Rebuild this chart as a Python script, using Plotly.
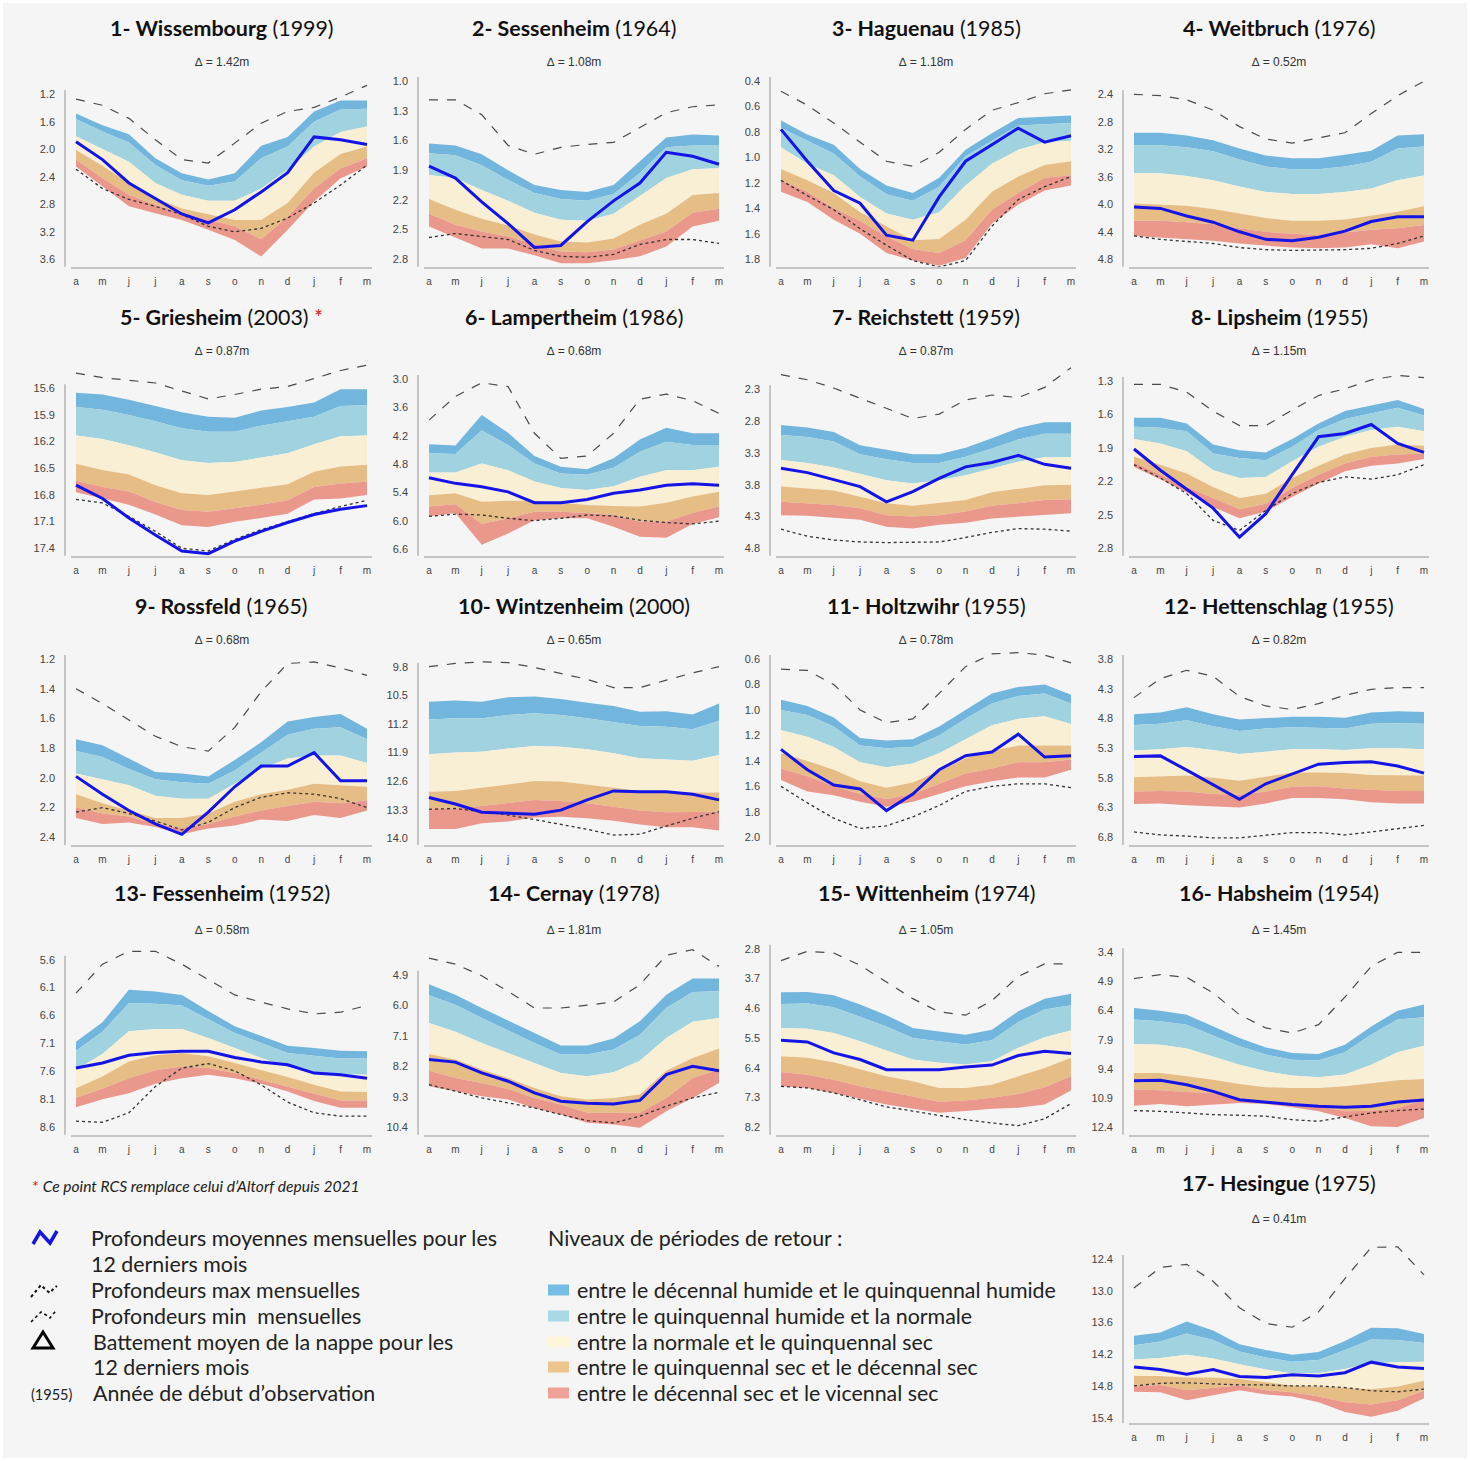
import plotly.graph_objects as go

# ---------------------------------------------------------------- data
MONTHS = ["a", "m", "j", "j", "a", "s", "o", "n", "d", "j", "f", "m"]
STATIONS = ["Wissembourg", "Sessenheim", "Haguenau", "Weitbruch", "Griesheim", "Lampertheim",
            "Reichstett", "Lipsheim", "Rossfeld", "Wintzenheim", "Holtzwihr", "Hettenschlag",
            "Fessenheim", "Cernay", "Wittenheim", "Habsheim", "Hesingue"]
START_YEARS = [1999, 1964, 1985, 1976, 2003, 1986, 1959, 1955, 1965, 2000, 1955, 1955,
               1952, 1978, 1974, 1954, 1975]
DELTAS = [1.42, 1.08, 1.18, 0.52, 0.87, 0.68, 0.87, 1.15, 0.68, 0.65, 0.78, 0.82,
          0.58, 1.81, 1.05, 1.45, 0.41]

P1_TICKS = [1.2, 1.6, 2.0, 2.4, 2.8, 3.2, 3.6]
P1_MAX = [1.27, 1.36, 1.55, 1.86, 2.15, 2.20, 1.91, 1.62, 1.45, 1.39, 1.24, 1.07]
P1_DH10 = [1.48, 1.65, 1.78, 2.13, 2.35, 2.44, 2.35, 1.95, 1.82, 1.45, 1.29, 1.29]
P1_DH5 = [1.56, 1.74, 1.90, 2.23, 2.45, 2.53, 2.47, 2.13, 1.96, 1.60, 1.42, 1.41]
P1_NORM = [1.81, 1.99, 2.18, 2.49, 2.66, 2.75, 2.75, 2.57, 2.30, 1.96, 1.75, 1.67]
P1_DS5 = [2.01, 2.24, 2.49, 2.71, 2.86, 2.95, 3.03, 3.03, 2.78, 2.34, 2.07, 1.96]
P1_DS10 = [2.15, 2.42, 2.66, 2.81, 2.92, 3.03, 3.12, 3.31, 2.98, 2.57, 2.28, 2.13]
P1_DS20 = [2.25, 2.54, 2.83, 2.93, 3.03, 3.17, 3.32, 3.56, 3.17, 2.76, 2.42, 2.25]
P1_MEAN = [1.89, 2.15, 2.49, 2.71, 2.94, 3.07, 2.88, 2.62, 2.34, 1.82, 1.86, 1.93]
P1_MIN = [2.29, 2.57, 2.73, 2.83, 2.95, 3.12, 3.20, 3.15, 3.00, 2.78, 2.52, 2.23]

P2_TICKS = [1.0, 1.3, 1.6, 1.9, 2.2, 2.5, 2.8]
P2_MAX = [1.19, 1.19, 1.34, 1.65, 1.74, 1.67, 1.64, 1.62, 1.47, 1.32, 1.26, 1.24]
P2_DH10 = [1.63, 1.65, 1.74, 1.90, 2.05, 2.10, 2.12, 2.05, 1.81, 1.57, 1.54, 1.55]
P2_DH5 = [1.73, 1.75, 1.85, 2.00, 2.13, 2.19, 2.21, 2.14, 1.93, 1.67, 1.65, 1.65]
P2_NORM = [1.95, 1.98, 2.10, 2.21, 2.33, 2.40, 2.41, 2.34, 2.16, 1.98, 1.89, 1.88]
P2_DS5 = [2.19, 2.30, 2.39, 2.46, 2.55, 2.62, 2.63, 2.59, 2.45, 2.34, 2.15, 2.13]
P2_DS10 = [2.34, 2.45, 2.52, 2.57, 2.65, 2.72, 2.73, 2.70, 2.61, 2.52, 2.33, 2.29]
P2_DS20 = [2.47, 2.58, 2.69, 2.69, 2.76, 2.84, 2.84, 2.81, 2.77, 2.67, 2.47, 2.41]
P2_MEAN = [1.86, 1.98, 2.22, 2.44, 2.68, 2.66, 2.42, 2.21, 2.03, 1.72, 1.76, 1.84]
P2_MIN = [2.58, 2.54, 2.57, 2.60, 2.71, 2.77, 2.78, 2.75, 2.65, 2.60, 2.60, 2.64]

P3_TICKS = [0.4, 0.6, 0.8, 1.0, 1.2, 1.4, 1.6, 1.8]
P3_MAX = [0.48, 0.59, 0.73, 0.88, 1.03, 1.07, 0.96, 0.78, 0.63, 0.57, 0.50, 0.47]
P3_DH10 = [0.71, 0.82, 0.90, 1.09, 1.22, 1.28, 1.16, 0.94, 0.81, 0.69, 0.68, 0.67]
P3_DH5 = [0.77, 0.87, 0.97, 1.15, 1.29, 1.34, 1.23, 0.99, 0.87, 0.75, 0.74, 0.73]
P3_NORM = [0.92, 1.05, 1.14, 1.31, 1.44, 1.49, 1.43, 1.22, 1.05, 0.94, 0.88, 0.87]
P3_DS5 = [1.09, 1.18, 1.28, 1.43, 1.54, 1.65, 1.64, 1.49, 1.27, 1.15, 1.06, 1.03]
P3_DS10 = [1.18, 1.27, 1.40, 1.50, 1.62, 1.72, 1.75, 1.65, 1.41, 1.28, 1.16, 1.14]
P3_DS20 = [1.27, 1.35, 1.49, 1.60, 1.75, 1.81, 1.85, 1.79, 1.52, 1.37, 1.26, 1.22]
P3_MEAN = [0.78, 1.03, 1.26, 1.36, 1.61, 1.65, 1.31, 1.03, 0.90, 0.77, 0.88, 0.83]
P3_MIN = [1.18, 1.30, 1.41, 1.56, 1.69, 1.81, 1.86, 1.81, 1.54, 1.33, 1.23, 1.15]

P4_TICKS = [2.4, 2.8, 3.2, 3.6, 4.0, 4.4, 4.8]
P4_MAX = [2.40, 2.42, 2.48, 2.63, 2.87, 3.05, 3.11, 3.03, 2.96, 2.68, 2.42, 2.21]
P4_DH10 = [2.96, 2.96, 3.00, 3.07, 3.19, 3.29, 3.33, 3.33, 3.28, 3.22, 3.00, 2.98]
P4_DH5 = [3.14, 3.14, 3.17, 3.23, 3.35, 3.45, 3.49, 3.49, 3.45, 3.38, 3.19, 3.16]
P4_NORM = [3.55, 3.55, 3.59, 3.65, 3.74, 3.82, 3.85, 3.85, 3.82, 3.77, 3.65, 3.58]
P4_DS5 = [3.99, 4.00, 4.02, 4.07, 4.14, 4.20, 4.24, 4.24, 4.22, 4.17, 4.11, 4.03]
P4_DS10 = [4.24, 4.24, 4.26, 4.29, 4.35, 4.40, 4.43, 4.45, 4.41, 4.37, 4.35, 4.30]
P4_DS20 = [4.46, 4.48, 4.50, 4.53, 4.57, 4.60, 4.63, 4.64, 4.63, 4.58, 4.64, 4.54]
P4_MEAN = [4.04, 4.06, 4.17, 4.26, 4.40, 4.51, 4.53, 4.48, 4.39, 4.25, 4.18, 4.18]
P4_MIN = [4.46, 4.51, 4.54, 4.57, 4.63, 4.66, 4.67, 4.67, 4.66, 4.64, 4.57, 4.46]

P5_TICKS = [15.6, 15.9, 16.2, 16.5, 16.8, 17.1, 17.4]
P5_MAX = [15.43, 15.48, 15.51, 15.54, 15.63, 15.72, 15.67, 15.61, 15.58, 15.49, 15.40, 15.34]
P5_DH10 = [15.65, 15.67, 15.73, 15.80, 15.87, 15.92, 15.93, 15.85, 15.81, 15.76, 15.61, 15.61]
P5_DH5 = [15.81, 15.84, 15.90, 15.97, 16.05, 16.09, 16.09, 16.02, 15.97, 15.92, 15.80, 15.79]
P5_NORM = [16.13, 16.17, 16.24, 16.32, 16.41, 16.44, 16.43, 16.38, 16.33, 16.23, 16.14, 16.13]
P5_DS5 = [16.45, 16.52, 16.57, 16.69, 16.78, 16.80, 16.76, 16.72, 16.68, 16.54, 16.48, 16.46]
P5_DS10 = [16.64, 16.71, 16.76, 16.88, 16.97, 16.99, 16.95, 16.91, 16.86, 16.71, 16.67, 16.65]
P5_DS20 = [16.77, 16.84, 16.91, 17.02, 17.14, 17.16, 17.10, 17.06, 17.01, 16.85, 16.84, 16.80]
P5_MEAN = [16.69, 16.84, 17.06, 17.25, 17.43, 17.46, 17.32, 17.21, 17.11, 17.02, 16.96, 16.92]
P5_MIN = [16.85, 16.89, 17.04, 17.21, 17.40, 17.43, 17.30, 17.19, 17.10, 17.01, 16.93, 16.86]

P6_TICKS = [3.0, 3.6, 4.2, 4.8, 5.4, 6.0, 6.6]
P6_MAX = [3.87, 3.37, 3.08, 3.16, 4.15, 4.68, 4.63, 4.15, 3.43, 3.32, 3.46, 3.73]
P6_DH10 = [4.38, 4.41, 3.76, 4.14, 4.63, 4.86, 4.91, 4.68, 4.28, 4.03, 4.15, 4.15]
P6_DH5 = [4.57, 4.59, 4.09, 4.40, 4.79, 5.00, 5.03, 4.88, 4.54, 4.33, 4.40, 4.40]
P6_NORM = [4.98, 4.98, 4.79, 4.93, 5.17, 5.31, 5.35, 5.27, 5.07, 4.93, 4.93, 4.86]
P6_DS5 = [5.46, 5.42, 5.60, 5.58, 5.58, 5.63, 5.67, 5.69, 5.70, 5.62, 5.49, 5.39]
P6_DS10 = [5.70, 5.65, 6.07, 5.95, 5.81, 5.81, 5.84, 5.88, 6.02, 6.02, 5.84, 5.70]
P6_DS20 = [5.91, 5.84, 6.51, 6.27, 5.99, 5.95, 5.95, 6.13, 6.34, 6.36, 6.07, 5.93]
P6_MEAN = [5.09, 5.21, 5.28, 5.39, 5.62, 5.62, 5.55, 5.42, 5.35, 5.25, 5.22, 5.25]
P6_MIN = [5.91, 5.86, 5.88, 5.95, 6.00, 5.95, 5.88, 5.90, 5.99, 6.04, 6.07, 6.01]

P7_TICKS = [2.3, 2.8, 3.3, 3.8, 4.3, 4.8]
P7_MAX = [2.07, 2.15, 2.28, 2.44, 2.60, 2.76, 2.69, 2.47, 2.39, 2.43, 2.27, 1.96]
P7_DH10 = [2.86, 2.90, 2.97, 3.18, 3.25, 3.32, 3.32, 3.22, 3.07, 2.91, 2.82, 2.82]
P7_DH5 = [3.02, 3.05, 3.12, 3.32, 3.40, 3.46, 3.46, 3.36, 3.23, 3.09, 3.00, 3.00]
P7_NORM = [3.41, 3.46, 3.53, 3.63, 3.73, 3.78, 3.73, 3.65, 3.54, 3.44, 3.37, 3.37]
P7_DS5 = [3.83, 3.86, 3.89, 3.99, 4.09, 4.13, 4.09, 4.04, 3.92, 3.87, 3.81, 3.80]
P7_DS10 = [4.07, 4.09, 4.12, 4.17, 4.28, 4.30, 4.28, 4.22, 4.13, 4.09, 4.04, 4.03]
P7_DS20 = [4.28, 4.29, 4.32, 4.35, 4.46, 4.49, 4.43, 4.40, 4.33, 4.30, 4.27, 4.25]
P7_MEAN = [3.54, 3.61, 3.72, 3.83, 4.07, 3.91, 3.70, 3.52, 3.45, 3.34, 3.48, 3.54]
P7_MIN = [4.50, 4.61, 4.67, 4.70, 4.71, 4.71, 4.70, 4.63, 4.55, 4.49, 4.50, 4.53]

P8_TICKS = [1.3, 1.6, 1.9, 2.2, 2.5, 2.8]
P8_MAX = [1.33, 1.33, 1.40, 1.57, 1.70, 1.70, 1.56, 1.43, 1.37, 1.29, 1.25, 1.27]
P8_DH10 = [1.63, 1.63, 1.68, 1.87, 1.92, 1.94, 1.82, 1.68, 1.57, 1.52, 1.47, 1.55]
P8_DH5 = [1.71, 1.72, 1.75, 1.95, 1.99, 2.01, 1.89, 1.74, 1.64, 1.59, 1.54, 1.61]
P8_NORM = [1.82, 1.86, 1.93, 2.10, 2.17, 2.16, 2.02, 1.89, 1.80, 1.74, 1.71, 1.75]
P8_DS5 = [1.98, 2.05, 2.13, 2.25, 2.35, 2.31, 2.17, 2.06, 1.96, 1.90, 1.87, 1.88]
P8_DS10 = [2.03, 2.14, 2.25, 2.35, 2.45, 2.40, 2.26, 2.14, 2.04, 1.98, 1.96, 1.95]
P8_DS20 = [2.07, 2.18, 2.30, 2.43, 2.53, 2.47, 2.34, 2.22, 2.11, 2.06, 2.04, 2.00]
P8_MEAN = [1.91, 2.10, 2.27, 2.44, 2.70, 2.49, 2.14, 1.80, 1.77, 1.69, 1.86, 1.94]
P8_MIN = [2.05, 2.17, 2.31, 2.55, 2.64, 2.46, 2.31, 2.21, 2.16, 2.18, 2.14, 2.05]

P9_TICKS = [1.2, 1.4, 1.6, 1.8, 2.0, 2.2, 2.4]
P9_MAX = [1.40, 1.50, 1.61, 1.72, 1.79, 1.82, 1.66, 1.42, 1.23, 1.22, 1.26, 1.31]
P9_DH10 = [1.74, 1.78, 1.87, 1.96, 1.97, 1.99, 1.88, 1.76, 1.62, 1.59, 1.57, 1.67]
P9_DH5 = [1.82, 1.86, 1.94, 2.01, 2.03, 2.04, 1.95, 1.83, 1.71, 1.67, 1.66, 1.74]
P9_NORM = [1.97, 2.01, 2.05, 2.12, 2.14, 2.14, 2.04, 1.94, 1.87, 1.85, 1.85, 1.90]
P9_DS5 = [2.11, 2.17, 2.22, 2.27, 2.27, 2.24, 2.16, 2.11, 2.08, 2.04, 2.05, 2.06]
P9_DS10 = [2.20, 2.24, 2.26, 2.31, 2.34, 2.31, 2.26, 2.22, 2.19, 2.16, 2.17, 2.15]
P9_DS20 = [2.27, 2.31, 2.30, 2.33, 2.38, 2.34, 2.32, 2.28, 2.29, 2.25, 2.27, 2.22]
P9_MEAN = [1.99, 2.11, 2.22, 2.31, 2.38, 2.23, 2.06, 1.92, 1.92, 1.83, 2.02, 2.02]
P9_MIN = [2.23, 2.20, 2.24, 2.29, 2.35, 2.30, 2.20, 2.13, 2.10, 2.11, 2.14, 2.20]

P10_TICKS = [9.8, 10.5, 11.2, 11.9, 12.6, 13.3, 14.0]
P10_MAX = [9.80, 9.72, 9.68, 9.70, 9.82, 9.96, 10.11, 10.31, 10.31, 10.13, 9.95, 9.80]
P10_DH10 = [10.66, 10.63, 10.66, 10.55, 10.53, 10.59, 10.68, 10.76, 10.90, 10.89, 10.97, 10.70]
P10_DH5 = [11.09, 11.06, 11.06, 10.98, 10.94, 10.98, 11.06, 11.15, 11.25, 11.27, 11.33, 11.12]
P10_NORM = [11.94, 11.90, 11.88, 11.80, 11.74, 11.76, 11.82, 11.92, 12.04, 12.07, 12.10, 11.96]
P10_DS5 = [12.86, 12.84, 12.76, 12.68, 12.60, 12.61, 12.68, 12.76, 12.84, 12.86, 12.88, 12.88]
P10_DS10 = [13.29, 13.27, 13.21, 13.14, 13.06, 13.09, 13.14, 13.23, 13.32, 13.36, 13.36, 13.35]
P10_DS20 = [13.77, 13.77, 13.63, 13.59, 13.49, 13.47, 13.51, 13.57, 13.66, 13.73, 13.73, 13.81]
P10_MEAN = [13.00, 13.16, 13.36, 13.39, 13.41, 13.31, 13.06, 12.84, 12.86, 12.86, 12.92, 13.06]
P10_MIN = [13.29, 13.27, 13.35, 13.43, 13.54, 13.66, 13.78, 13.92, 13.90, 13.70, 13.51, 13.35]

P11_TICKS = [0.6, 0.8, 1.0, 1.2, 1.4, 1.6, 1.8, 2.0]
P11_MAX = [0.68, 0.69, 0.80, 1.00, 1.10, 1.07, 0.87, 0.66, 0.56, 0.55, 0.57, 0.63]
P11_DH10 = [0.92, 0.97, 1.06, 1.22, 1.24, 1.23, 1.13, 1.00, 0.87, 0.82, 0.80, 0.88]
P11_DH5 = [1.00, 1.04, 1.13, 1.28, 1.30, 1.29, 1.20, 1.07, 0.95, 0.89, 0.87, 0.95]
P11_NORM = [1.16, 1.21, 1.29, 1.41, 1.45, 1.42, 1.34, 1.23, 1.12, 1.07, 1.05, 1.11]
P11_DS5 = [1.34, 1.40, 1.47, 1.56, 1.61, 1.57, 1.48, 1.38, 1.32, 1.28, 1.28, 1.28]
P11_DS10 = [1.46, 1.52, 1.60, 1.66, 1.70, 1.66, 1.58, 1.50, 1.46, 1.41, 1.41, 1.39]
P11_DS20 = [1.55, 1.64, 1.67, 1.72, 1.76, 1.72, 1.66, 1.60, 1.56, 1.53, 1.53, 1.47]
P11_MEAN = [1.31, 1.47, 1.59, 1.62, 1.79, 1.66, 1.47, 1.36, 1.33, 1.19, 1.37, 1.36]
P11_MIN = [1.60, 1.73, 1.85, 1.93, 1.91, 1.84, 1.75, 1.64, 1.60, 1.58, 1.58, 1.61]

P12_TICKS = [3.8, 4.3, 4.8, 5.3, 5.8, 6.3, 6.8]
P12_MAX = [4.45, 4.13, 3.99, 4.09, 4.43, 4.59, 4.65, 4.55, 4.41, 4.31, 4.28, 4.28]
P12_DH10 = [4.73, 4.70, 4.61, 4.73, 4.82, 4.79, 4.77, 4.77, 4.79, 4.70, 4.68, 4.69]
P12_DH5 = [4.91, 4.89, 4.83, 4.93, 5.01, 4.97, 4.95, 4.96, 4.97, 4.89, 4.88, 4.89]
P12_NORM = [5.34, 5.32, 5.28, 5.33, 5.40, 5.36, 5.32, 5.32, 5.33, 5.30, 5.30, 5.32]
P12_DS5 = [5.79, 5.77, 5.76, 5.80, 5.85, 5.78, 5.71, 5.71, 5.72, 5.75, 5.76, 5.76]
P12_DS10 = [6.03, 6.02, 6.03, 6.07, 6.09, 6.03, 5.95, 5.94, 5.98, 6.00, 6.02, 6.02]
P12_DS20 = [6.24, 6.23, 6.26, 6.28, 6.30, 6.23, 6.14, 6.14, 6.16, 6.21, 6.23, 6.23]
P12_MEAN = [5.44, 5.43, 5.67, 5.92, 6.16, 5.90, 5.74, 5.57, 5.54, 5.53, 5.60, 5.72]
P12_MIN = [6.71, 6.76, 6.78, 6.81, 6.81, 6.76, 6.72, 6.72, 6.76, 6.71, 6.65, 6.60]

P13_TICKS = [5.6, 6.1, 6.6, 7.1, 7.6, 8.1, 8.6]
P13_MAX = [6.20, 5.68, 5.45, 5.45, 5.68, 5.96, 6.23, 6.36, 6.48, 6.57, 6.54, 6.42]
P13_DH10 = [7.07, 6.72, 6.14, 6.17, 6.23, 6.52, 6.79, 6.97, 7.14, 7.18, 7.23, 7.24]
P13_DH5 = [7.23, 6.89, 6.38, 6.39, 6.42, 6.66, 6.91, 7.09, 7.27, 7.32, 7.37, 7.37]
P13_NORM = [7.57, 7.29, 6.88, 6.84, 6.84, 7.00, 7.18, 7.36, 7.52, 7.61, 7.65, 7.66]
P13_DS5 = [7.90, 7.69, 7.42, 7.31, 7.27, 7.33, 7.45, 7.57, 7.70, 7.84, 7.96, 7.97]
P13_DS10 = [8.07, 7.91, 7.72, 7.58, 7.51, 7.54, 7.63, 7.75, 7.87, 7.99, 8.12, 8.12]
P13_DS20 = [8.24, 8.10, 7.99, 7.82, 7.72, 7.66, 7.72, 7.82, 7.96, 8.13, 8.25, 8.25]
P13_MEAN = [7.54, 7.45, 7.31, 7.26, 7.24, 7.24, 7.35, 7.43, 7.48, 7.63, 7.66, 7.72]
P13_MIN = [8.49, 8.51, 8.34, 7.87, 7.54, 7.46, 7.59, 7.84, 8.15, 8.34, 8.40, 8.40]

P14_TICKS = [4.9, 6.0, 7.1, 8.2, 9.3, 10.4]
P14_MAX = [4.30, 4.52, 4.94, 5.50, 6.10, 6.10, 6.00, 5.88, 5.26, 4.20, 4.00, 4.60]
P14_DH10 = [5.24, 5.62, 6.10, 6.56, 7.00, 7.45, 7.45, 7.20, 6.58, 5.62, 5.04, 5.04]
P14_DH5 = [5.64, 5.98, 6.46, 6.92, 7.36, 7.78, 7.78, 7.60, 7.06, 6.10, 5.52, 5.50]
P14_NORM = [6.64, 6.96, 7.36, 7.72, 8.08, 8.44, 8.56, 8.42, 8.00, 7.18, 6.60, 6.46]
P14_DS5 = [7.76, 7.96, 8.32, 8.62, 8.98, 9.28, 9.40, 9.34, 9.22, 8.36, 7.90, 7.56]
P14_DS10 = [8.36, 8.62, 8.80, 9.02, 9.34, 9.58, 9.88, 9.88, 9.88, 9.34, 8.62, 8.32]
P14_DS20 = [8.92, 9.10, 9.28, 9.40, 9.70, 9.94, 10.24, 10.30, 10.42, 9.82, 9.34, 8.80]
P14_MEAN = [7.96, 8.05, 8.44, 8.74, 9.16, 9.46, 9.53, 9.56, 9.43, 8.50, 8.20, 8.36]
P14_MIN = [8.86, 9.10, 9.34, 9.52, 9.70, 9.94, 10.16, 10.24, 10.00, 9.64, 9.34, 9.14]

P15_TICKS = [2.8, 3.7, 4.6, 5.5, 6.4, 7.3, 8.2]
P15_MAX = [3.16, 2.88, 2.93, 3.30, 3.81, 4.31, 4.71, 4.81, 4.37, 3.64, 3.26, 3.26]
P15_DH10 = [4.12, 4.11, 4.21, 4.49, 4.81, 5.20, 5.30, 5.40, 5.25, 4.69, 4.31, 4.16]
P15_DH5 = [4.47, 4.46, 4.57, 4.87, 5.15, 5.50, 5.60, 5.70, 5.57, 5.02, 4.64, 4.51]
P15_NORM = [5.20, 5.22, 5.35, 5.60, 5.88, 6.15, 6.25, 6.30, 6.20, 5.80, 5.48, 5.27]
P15_DS5 = [6.05, 6.10, 6.23, 6.44, 6.66, 6.81, 7.01, 7.01, 6.91, 6.66, 6.41, 6.10]
P15_DS10 = [6.53, 6.61, 6.76, 6.96, 7.11, 7.26, 7.43, 7.39, 7.31, 7.19, 6.99, 6.66]
P15_DS20 = [6.96, 7.01, 7.16, 7.33, 7.51, 7.64, 7.76, 7.71, 7.64, 7.61, 7.51, 7.09]
P15_MEAN = [5.57, 5.62, 5.95, 6.15, 6.46, 6.46, 6.46, 6.38, 6.32, 6.03, 5.90, 5.97]
P15_MIN = [6.96, 7.01, 7.16, 7.36, 7.58, 7.71, 7.84, 7.97, 8.07, 8.15, 7.94, 7.48]

P16_TICKS = [3.4, 4.9, 6.4, 7.9, 9.4, 10.9, 12.4]
P16_MAX = [4.75, 4.55, 4.69, 5.49, 6.61, 7.29, 7.55, 7.12, 5.71, 4.12, 3.40, 3.40]
P16_DH10 = [6.26, 6.40, 6.61, 7.21, 7.81, 8.29, 8.58, 8.63, 8.15, 7.21, 6.40, 6.09]
P16_DH5 = [6.86, 6.95, 7.12, 7.67, 8.23, 8.66, 8.92, 8.97, 8.54, 7.63, 6.86, 6.74]
P16_NORM = [8.11, 8.15, 8.35, 8.75, 9.18, 9.52, 9.73, 9.83, 9.69, 9.18, 8.54, 8.20]
P16_DS5 = [9.61, 9.61, 9.78, 9.95, 10.17, 10.34, 10.38, 10.38, 10.29, 10.12, 9.98, 9.92]
P16_DS10 = [10.46, 10.50, 10.58, 10.63, 10.93, 11.06, 11.20, 11.32, 11.58, 11.55, 11.41, 10.98]
P16_DS20 = [11.29, 11.20, 11.32, 11.23, 11.15, 11.20, 11.37, 11.58, 11.92, 12.35, 12.38, 11.92]
P16_MEAN = [10.00, 9.98, 10.21, 10.55, 10.98, 11.11, 11.23, 11.32, 11.37, 11.32, 11.10, 11.00]
P16_MIN = [11.54, 11.58, 11.66, 11.75, 11.78, 11.83, 12.01, 12.09, 11.87, 11.66, 11.54, 11.46]

P17_TICKS = [12.4, 13.0, 13.6, 14.2, 14.8, 15.4]
P17_MAX = [12.95, 12.56, 12.50, 12.82, 13.32, 13.62, 13.69, 13.40, 12.77, 12.18, 12.17, 12.70]
P17_DH10 = [13.85, 13.79, 13.58, 13.75, 14.01, 14.12, 14.21, 14.16, 13.95, 13.70, 13.71, 13.82]
P17_DH5 = [14.03, 13.96, 13.81, 13.93, 14.15, 14.26, 14.34, 14.31, 14.12, 13.92, 13.93, 13.99]
P17_NORM = [14.30, 14.27, 14.21, 14.28, 14.39, 14.49, 14.56, 14.56, 14.48, 14.37, 14.35, 14.34]
P17_DS5 = [14.61, 14.61, 14.64, 14.64, 14.67, 14.73, 14.79, 14.81, 14.83, 14.86, 14.81, 14.70]
P17_DS10 = [14.81, 14.78, 14.88, 14.83, 14.79, 14.88, 14.92, 15.00, 15.11, 15.15, 15.07, 14.89]
P17_DS20 = [14.91, 14.92, 15.07, 14.97, 14.88, 14.96, 15.00, 15.11, 15.29, 15.38, 15.27, 15.03]
P17_MEAN = [14.44, 14.49, 14.58, 14.49, 14.62, 14.64, 14.59, 14.61, 14.55, 14.35, 14.44, 14.47]
P17_MIN = [14.80, 14.75, 14.74, 14.76, 14.78, 14.78, 14.80, 14.80, 14.83, 14.89, 14.91, 14.86]

BAND_LABELS = ["entre le décennal humide et le quinquennal humide",
               "entre le quinquennal humide et la normale",
               "entre la normale et le quinquennal sec",
               "entre le quinquennal sec et le décennal sec",
               "entre le décennal sec et le vicennal sec"]

PANELS = [
    (P1_TICKS, [P1_DH10, P1_DH5, P1_NORM, P1_DS5, P1_DS10, P1_DS20], P1_MAX, P1_MIN, P1_MEAN),
    (P2_TICKS, [P2_DH10, P2_DH5, P2_NORM, P2_DS5, P2_DS10, P2_DS20], P2_MAX, P2_MIN, P2_MEAN),
    (P3_TICKS, [P3_DH10, P3_DH5, P3_NORM, P3_DS5, P3_DS10, P3_DS20], P3_MAX, P3_MIN, P3_MEAN),
    (P4_TICKS, [P4_DH10, P4_DH5, P4_NORM, P4_DS5, P4_DS10, P4_DS20], P4_MAX, P4_MIN, P4_MEAN),
    (P5_TICKS, [P5_DH10, P5_DH5, P5_NORM, P5_DS5, P5_DS10, P5_DS20], P5_MAX, P5_MIN, P5_MEAN),
    (P6_TICKS, [P6_DH10, P6_DH5, P6_NORM, P6_DS5, P6_DS10, P6_DS20], P6_MAX, P6_MIN, P6_MEAN),
    (P7_TICKS, [P7_DH10, P7_DH5, P7_NORM, P7_DS5, P7_DS10, P7_DS20], P7_MAX, P7_MIN, P7_MEAN),
    (P8_TICKS, [P8_DH10, P8_DH5, P8_NORM, P8_DS5, P8_DS10, P8_DS20], P8_MAX, P8_MIN, P8_MEAN),
    (P9_TICKS, [P9_DH10, P9_DH5, P9_NORM, P9_DS5, P9_DS10, P9_DS20], P9_MAX, P9_MIN, P9_MEAN),
    (P10_TICKS, [P10_DH10, P10_DH5, P10_NORM, P10_DS5, P10_DS10, P10_DS20], P10_MAX, P10_MIN, P10_MEAN),
    (P11_TICKS, [P11_DH10, P11_DH5, P11_NORM, P11_DS5, P11_DS10, P11_DS20], P11_MAX, P11_MIN, P11_MEAN),
    (P12_TICKS, [P12_DH10, P12_DH5, P12_NORM, P12_DS5, P12_DS10, P12_DS20], P12_MAX, P12_MIN, P12_MEAN),
    (P13_TICKS, [P13_DH10, P13_DH5, P13_NORM, P13_DS5, P13_DS10, P13_DS20], P13_MAX, P13_MIN, P13_MEAN),
    (P14_TICKS, [P14_DH10, P14_DH5, P14_NORM, P14_DS5, P14_DS10, P14_DS20], P14_MAX, P14_MIN, P14_MEAN),
    (P15_TICKS, [P15_DH10, P15_DH5, P15_NORM, P15_DS5, P15_DS10, P15_DS20], P15_MAX, P15_MIN, P15_MEAN),
    (P16_TICKS, [P16_DH10, P16_DH5, P16_NORM, P16_DS5, P16_DS10, P16_DS20], P16_MAX, P16_MIN, P16_MEAN),
    (P17_TICKS, [P17_DH10, P17_DH5, P17_NORM, P17_DS5, P17_DS10, P17_DS20], P17_MAX, P17_MIN, P17_MEAN),
]

# ---------------------------------------------------------------- styling / layout geometry
W, H = 1470, 1461
BAND_COLORS = ["#72b6de", "#a0d2df", "#f8efd4", "#e7bd86", "#ea978c"]
LEGEND_SWATCH = ["#76bde3", "#a6d8e5", "#fef5da", "#edc68e", "#efa198"]
MEAN_COLOR = "#1414e6"
TITLE_FONT = "Lato"
TICK_FONT = "Liberation Sans"
LEG_SIZE = 21.4

COL_A = [76, 429, 781, 1134]      # pixel x of first month
COL_M = [367, 719, 1071, 1424]    # pixel x of last month
# rows: (domain top px, baseline px, title y, delta y)
ROWS = [(70, 266.7, 28, 62), (358, 555.7, 317, 351), (645, 845, 606, 640),
        (938, 1134.7, 893, 930), (1233, 1423, 1183, 1219)]
# pixel y of first and last tick label, per panel
TICK_PX = [(94.3, 259.3), (81, 259.3), (81, 259.3), (94.3, 259.3),
           (388.3, 548.3), (379, 549), (389.3, 548.3), (381, 548.3),
           (659, 837.3), (666.7, 838.3), (659, 837.3), (659, 837.3),
           (959.7, 1127.3), (974.7, 1127.3), (948.7, 1127.3), (952.3, 1127.3),
           (1259, 1417.7)]


def px(x):
    return x / W


def py(y):
    return 1 - y / H


fig = go.Figure()
shapes = []
annotations = []
layout_axes = {}
X = list(range(len(MONTHS)))

for i, (ticks, bounds, vmax, vmin, vmean) in enumerate(PANELS):
    n = i + 1
    if i < 16:
        col, row = i % 4, i // 4
    else:
        col, row = 3, 4
    xa, xm = COL_A[col], COL_M[col]
    dom_top, base, title_y, delta_y = ROWS[row]
    t_top, t_bot = TICK_PX[i]
    step = (xm - xa) / 11.0
    pad = 0.2
    v0, v1 = ticks[0], ticks[-1]
    ppu = (t_bot - t_top) / (v1 - v0)
    v_top = v0 - (t_top - dom_top) / ppu
    v_bot = v1 + (base - t_bot) / ppu
    xname = "xaxis" if n == 1 else f"xaxis{n}"
    yname = "yaxis" if n == 1 else f"yaxis{n}"
    xref = "x" if n == 1 else f"x{n}"
    yref = "y" if n == 1 else f"y{n}"
    axis_x = xa - 11

    layout_axes[xname] = dict(
        domain=[px(xa - pad * step), px(xm + pad * step)], range=[-pad, 11 + pad],
        anchor=yref, tickmode="array", tickvals=X, ticktext=MONTHS,
        showgrid=False, zeroline=False, showline=True, linecolor="#c4c4c4", linewidth=2,
        ticks="", ticklabelstandoff=4,
        tickfont=dict(family=TICK_FONT, size=10, color="#444"), fixedrange=True)
    layout_axes[yname] = dict(
        domain=[py(base), py(dom_top)], range=[v_bot, v_top],
        anchor="free", position=px(axis_x), tickmode="array", tickvals=ticks,
        tickformat=".1f", showgrid=False, zeroline=False, showline=False, ticks="",
        ticklabelstandoff=10, tickfont=dict(family=TICK_FONT, size=11, color="#444"),
        fixedrange=True)

    # bands
    fig.add_trace(go.Scatter(x=X, y=bounds[0], mode="lines", line=dict(width=0),
                             xaxis=xref, yaxis=yref, showlegend=False, hoverinfo="skip"))
    for k in range(1, 6):
        fig.add_trace(go.Scatter(x=X, y=bounds[k], mode="lines", line=dict(width=0),
                                 fill="tonexty", fillcolor=BAND_COLORS[k - 1],
                                 xaxis=xref, yaxis=yref, showlegend=False,
                                 name=BAND_LABELS[k - 1], hoverinfo="skip"))
    fig.add_trace(go.Scatter(x=X, y=vmax, mode="lines",
                             line=dict(color="#4a4a4a", width=1.2, dash="dash"),
                             xaxis=xref, yaxis=yref, showlegend=False, name="max"))
    fig.add_trace(go.Scatter(x=X, y=vmin, mode="lines",
                             line=dict(color="#333333", width=1.3, dash="dot"),
                             xaxis=xref, yaxis=yref, showlegend=False, name="min"))
    fig.add_trace(go.Scatter(x=X, y=vmean, mode="lines",
                             line=dict(color=MEAN_COLOR, width=3),
                             xaxis=xref, yaxis=yref, showlegend=False, name="moyenne",
                             cliponaxis=False))

    # vertical axis line
    shapes.append(dict(type="line", xref="paper", yref="paper",
                       x0=px(axis_x), x1=px(axis_x), y0=py(t_top - 4), y1=py(base),
                       line=dict(color="#c4c4c4", width=2)))

    cx = (xa + xm) / 2
    star = " <span style='color:#e02020'>*</span>" if n == 5 else ""
    annotations.append(dict(
        xref="paper", yref="paper", x=px(cx), y=py(title_y), xanchor="center",
        yanchor="middle", showarrow=False,
        text=f"<b>{n}- {STATIONS[i]}</b> ({START_YEARS[i]}){star}",
        font=dict(family=TITLE_FONT, size=21.4, color="#111")))
    annotations.append(dict(
        xref="paper", yref="paper", x=px(cx), y=py(delta_y), xanchor="center",
        yanchor="middle", showarrow=False, text=f"∆ = {DELTAS[i]:.2f}m",
        font=dict(family=TICK_FONT, size=12, color="#333")))

# ---------------------------------------------------------------- legend / notes
annotations.append(dict(
    xref="paper", yref="paper", x=px(30), y=py(1186), xanchor="left", yanchor="middle",
    showarrow=False,
    text="<span style='color:#e02020'>*</span> <i>Ce point RCS remplace celui d’Altorf depuis 2021</i>",
    font=dict(family=TITLE_FONT, size=15.6, color="#222")))

LEFT_LEG = [(89, 1238, "Profondeurs moyennes mensuelles pour les"),
            (89, 1264, "12 derniers mois"),
            (89, 1290, "Profondeurs max mensuelles"),
            (89, 1316, "Profondeurs min  mensuelles"),
            (91, 1342, "Battement moyen de la nappe pour les"),
            (91, 1367, "12 derniers mois"),
            (91, 1393, "Année de début d’observation")]
for x, y, t in LEFT_LEG:
    annotations.append(dict(xref="paper", yref="paper", x=px(x), y=py(y), xanchor="left",
                            yanchor="middle", showarrow=False, text=t,
                            font=dict(family=TITLE_FONT, size=LEG_SIZE, color="#222")))
annotations.append(dict(xref="paper", yref="paper", x=px(29), y=py(1394), xanchor="left",
                        yanchor="middle", showarrow=False, text="(1955)",
                        font=dict(family=TITLE_FONT, size=14.5, color="#222")))
annotations.append(dict(xref="paper", yref="paper", x=px(546), y=py(1238), xanchor="left",
                        yanchor="middle", showarrow=False,
                        text="Niveaux de périodes de retour :",
                        font=dict(family=TITLE_FONT, size=LEG_SIZE, color="#222")))
for k, (lab, yy) in enumerate(zip(BAND_LABELS, [1290, 1316, 1342, 1367, 1393])):
    shapes.append(dict(type="rect", xref="paper", yref="paper", x0=px(548), x1=px(569),
                       y0=py(yy + 5.5), y1=py(yy - 5.5), fillcolor=LEGEND_SWATCH[k],
                       line=dict(width=0)))
    annotations.append(dict(xref="paper", yref="paper", x=px(575), y=py(yy), xanchor="left",
                            yanchor="middle", showarrow=False, text=lab,
                            font=dict(family=TITLE_FONT, size=LEG_SIZE, color="#222")))


def path_of(points, close=False):
    s = ""
    for j, (x, y) in enumerate(points):
        s += ("M" if j == 0 else "L") + f"{px(x):.5f},{py(y):.5f} "
    return s + ("Z" if close else "")


shapes.append(dict(type="path", xref="paper", yref="paper",
                   path=path_of([(33, 1244), (40, 1232), (50, 1243), (57, 1231)]),
                   line=dict(color=MEAN_COLOR, width=3.5)))
shapes.append(dict(type="path", xref="paper", yref="paper",
                   path=path_of([(31, 1297), (36, 1291), (41, 1285), (46, 1290), (50, 1293),
                                 (54, 1288), (57, 1286)]),
                   line=dict(color="#111", width=2, dash="dot")))
shapes.append(dict(type="path", xref="paper", yref="paper",
                   path=path_of([(31, 1322), (36, 1317), (41, 1312), (46, 1315), (50, 1318),
                                 (54, 1313), (57, 1310)]),
                   line=dict(color="#111", width=1.6, dash="dot")))
shapes.append(dict(type="path", xref="paper", yref="paper",
                   path=path_of([(33, 1348), (43, 1332), (53, 1348)], close=True),
                   line=dict(color="#000", width=3)))

# background panel
shapes.insert(0, dict(type="rect", xref="paper", yref="paper", x0=px(3), x1=px(1467),
                      y0=py(1458), y1=py(3), fillcolor="#f5f5f5", line=dict(width=0),
                      layer="below"))

fig.update_layout(
    width=W, height=H, autosize=False,
    margin=dict(l=0, r=0, t=0, b=0),
    paper_bgcolor="#ffffff", plot_bgcolor="rgba(0,0,0,0)",
    showlegend=False, shapes=shapes, annotations=annotations,
    **layout_axes)

fig.write_html("out.html", config={"displayModeBar": False},
               post_script="document.body.style.margin='0';document.body.style.padding='0';")
